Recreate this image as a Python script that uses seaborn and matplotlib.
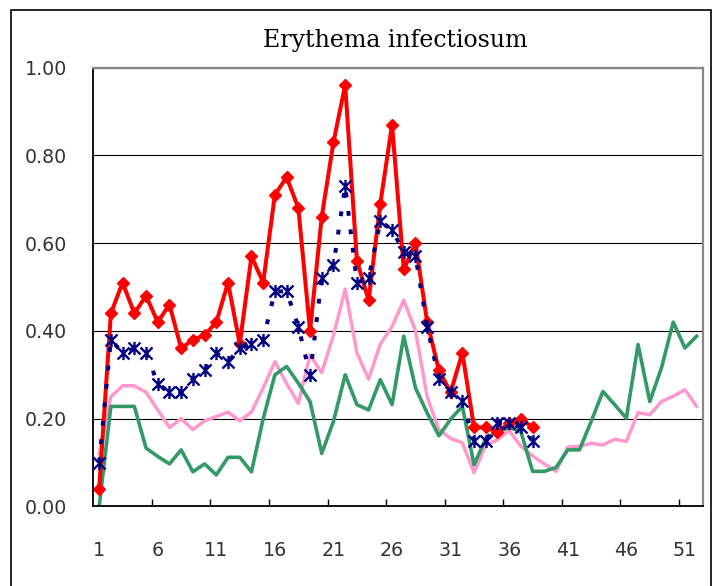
import matplotlib
matplotlib.use("Agg")
import matplotlib.pyplot as plt
from matplotlib.path import Path
from matplotlib.patches import Rectangle
import seaborn as sns

# weekly values
weeks = list(range(1, 53))
label_weeks = list(range(1, 53, 5))
boundary_weeks = [w + 0.5 for w in range(5, 51, 5)]
y_ticks = [0.0, 0.2, 0.4, 0.6, 0.8, 1.0]
title = "Erythema infectiosum"

red_values = [0.04, 0.44, 0.51, 0.44, 0.48, 0.42, 0.46, 0.36, 0.38, 0.39,
              0.42, 0.51, 0.37, 0.57, 0.51, 0.71, 0.75, 0.68, 0.40, 0.66,
              0.83, 0.96, 0.56, 0.47, 0.69, 0.87, 0.54, 0.60, 0.42, 0.31,
              0.26, 0.35, 0.18, 0.18, 0.17, 0.19, 0.20, 0.18]
navy_values = [0.10, 0.38, 0.35, 0.36, 0.35, 0.28, 0.26, 0.26, 0.29, 0.31,
               0.35, 0.33, 0.36, 0.37, 0.38, 0.49, 0.49, 0.41, 0.30, 0.52,
               0.55, 0.73, 0.51, 0.52, 0.65, 0.63, 0.58, 0.57, 0.41, 0.29,
               0.26, 0.24, 0.15, 0.15, 0.19, 0.19, 0.18, 0.15]
pink_values = [0.12, 0.25, 0.275, 0.275, 0.26, 0.22, 0.18, 0.20, 0.175, 0.195,
               0.205, 0.215, 0.195, 0.215, 0.27, 0.33, 0.28, 0.235, 0.345,
               0.305, 0.39, 0.495, 0.35, 0.29, 0.37, 0.41, 0.47, 0.40, 0.25,
               0.175, 0.155, 0.145, 0.077, 0.14, 0.152, 0.173, 0.137, 0.115,
               0.097, 0.08, 0.135, 0.137, 0.144, 0.14, 0.153, 0.148, 0.214,
               0.209, 0.239, 0.251, 0.266, 0.228]
green_values = [0.0, 0.228, 0.228, 0.228, 0.133, 0.114, 0.097, 0.129, 0.079,
                0.097, 0.072, 0.112, 0.112, 0.079, 0.20, 0.30, 0.319, 0.281,
                0.239, 0.121, 0.194, 0.30, 0.232, 0.22, 0.289, 0.232, 0.388,
                0.27, 0.213, 0.161, 0.199, 0.228, 0.095, 0.155, 0.17, 0.18,
                0.17, 0.08, 0.08, 0.089, 0.129, 0.129, 0.194, 0.262, 0.232,
                0.201, 0.369, 0.239, 0.316, 0.42, 0.361, 0.388]

plt.rcParams['font.family'] = ['DejaVu Sans']

# Excel style asterisk: an X plus a vertical bar
asterisk = Path([(-1, -1), (1, 1), (-1, 1), (1, -1), (0, -1.1), (0, 1.1)],
                [Path.MOVETO, Path.LINETO] * 3)

fig = plt.figure(figsize=(7.2, 5.86), dpi=100)
ax = fig.add_axes([0.1296, 0.1357, 0.8461, 0.7491])

sns.lineplot(x=weeks, y=pink_values, color='#FF99CC', linewidth=2.5,
             ax=ax, zorder=2.0)
sns.lineplot(x=weeks, y=green_values, color='#339966', linewidth=2.6,
             ax=ax, zorder=2.1)
sns.lineplot(x=weeks[:len(red_values)], y=red_values, color='#FF0000',
             linewidth=2.9, marker='D', markersize=6.3,
             markerfacecolor='#FF0000', markeredgecolor='#FF0000',
             markeredgewidth=1, ax=ax, zorder=2.2)
sns.lineplot(x=weeks[:len(navy_values)], y=navy_values, color='#000080',
             linewidth=2.9, linestyle=(0, (1.2, 3.4)), marker=asterisk,
             markersize=9.5, markerfacecolor='none',
             markeredgecolor='#000080', markeredgewidth=1.7,
             ax=ax, zorder=2.3)

ax.set_xlim(0.5, 52.5)
ax.set_ylim(0, 1)
ax.set_xticks(label_weeks)
ax.set_xticklabels([str(w) for w in label_weeks])
ax.set_xticks(boundary_weeks, minor=True)
ax.set_yticks(y_ticks)
ax.set_yticklabels(['%.2f' % v for v in y_ticks])
ax.tick_params(axis='x', which='major', length=0, pad=25, labelsize=13.7,
               labelcolor='#333333')
ax.tick_params(axis='x', which='minor', direction='in', length=5, width=1,
               color='black')
ax.tick_params(axis='y', length=0, pad=19, labelsize=13.7,
               labelcolor='#333333')
ax.set_xlabel('')
ax.set_ylabel('')

ax.yaxis.grid(True, color='black', linewidth=0.8)
ax.xaxis.grid(False)
for side in ['left', 'bottom']:
    ax.spines[side].set_color('black')
    ax.spines[side].set_linewidth(1.3)
for side in ['top', 'right']:
    ax.spines[side].set_color('#888888')
    ax.spines[side].set_linewidth(1.6)

fig.text(395 / 720, 1 - 46.7 / 586, title, ha='center', va='baseline',
         family='DejaVu Serif', fontsize=17)

# chart frame
fig.add_artist(Rectangle((11 / 720, -0.05), 700 / 720, 1.05 - 10 / 586,
                         transform=fig.transFigure, fill=False,
                         edgecolor='black', linewidth=1.2))

fig.savefig('out.png', dpi=100)
